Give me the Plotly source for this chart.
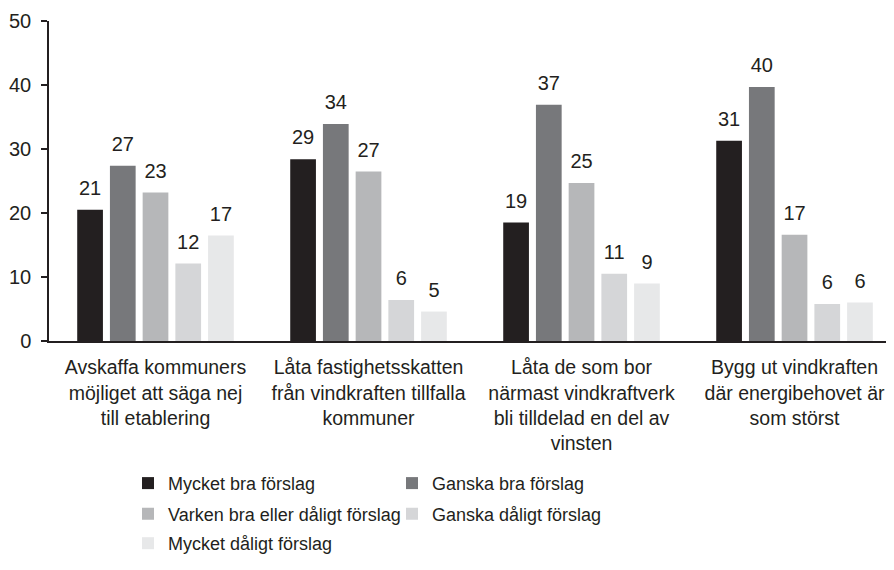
import plotly.graph_objects as go

# survey proposals (x categories)
categories = [
    "Avskaffa kommuners<br>möjliget att säga nej<br>till etablering",
    "Låta fastighetsskatten<br>från vindkraften tillfalla<br>kommuner",
    "Låta de som bor<br>närmast vindkraftverk<br>bli tilldelad en del av<br>vinsten",
    "Bygg ut vindkraften<br>där energibehovet är<br>som störst",
]

series_names = [
    "Mycket bra förslag",
    "Ganska bra förslag",
    "Varken bra eller dåligt förslag",
    "Ganska dåligt förslag",
    "Mycket dåligt förslag",
]

# bar heights (percent)
mycket_bra = [20.5, 28.4, 18.5, 31.3]
ganska_bra = [27.4, 33.9, 36.9, 39.7]
varken = [23.2, 26.5, 24.7, 16.6]
ganska_daligt = [12.1, 6.4, 10.5, 5.8]
mycket_daligt = [16.5, 4.6, 9.0, 6.0]

# labels printed above the bars
labels_mycket_bra = [21, 29, 19, 31]
labels_ganska_bra = [27, 34, 37, 40]
labels_varken = [23, 27, 25, 17]
labels_ganska_daligt = [12, 6, 11, 6]
labels_mycket_daligt = [17, 5, 9, 6]

values = [mycket_bra, ganska_bra, varken, ganska_daligt, mycket_daligt]
labels = [labels_mycket_bra, labels_ganska_bra, labels_varken,
          labels_ganska_daligt, labels_mycket_daligt]
colors = ["#231f20", "#77787b", "#b6b7b9", "#d5d6d8", "#e7e8e9"]
legend_rows = ["legend", "legend", "legend2", "legend2", "legend3"]

FONT = "Liberation Sans, Arial, sans-serif"
TXT = "#231f20"

fig = go.Figure()
for name, vals, col, lg in zip(series_names, values, colors, legend_rows):
    fig.add_trace(go.Bar(
        x=categories, y=vals, name=name, marker_color=col,
        marker_line_width=0, legend=lg, hoverinfo="skip",
    ))

# value labels, grouped the same way as the bars
for name, vals, labs in zip(series_names, values, labels):
    fig.add_trace(go.Scatter(
        x=categories, y=vals, text=[str(v) for v in labs],
        mode="markers+text", textposition="top center",
        marker=dict(size=14, opacity=0), showlegend=False,
        textfont=dict(size=20, color=TXT, family=FONT), hoverinfo="skip",
    ))

legend_style = dict(
    orientation="h", xanchor="left", yanchor="middle", x=0.0935,
    entrywidth=219, entrywidthmode="pixels",
    font=dict(size=18, color=TXT, family=FONT), bgcolor="rgba(0,0,0,0)",
)

# page body has an 8px margin, so the figure is kept smaller than the window
fig.update_layout(
    width=886, height=554,
    margin=dict(l=41, r=0, t=13, b=221),
    plot_bgcolor="white", paper_bgcolor="white",
    barmode="group", bargap=0.232, bargroupgap=0.214,
    scattermode="group", scattergap=0.232,
    font=dict(family=FONT, size=19, color=TXT),
    legend=dict(legend_style, y=-0.445),
    legend2=dict(legend_style, y=-0.541),
    legend3=dict(legend_style, y=-0.635),
    xaxis=dict(
        range=[-0.5, 3.467], showline=True, linecolor=TXT, linewidth=2,
        ticks="", showgrid=False, zeroline=False,
        tickfont=dict(size=19.5, color=TXT, family=FONT),
        ticklabelstandoff=8,
    ),
    yaxis=dict(
        range=[0, 50], tickvals=[0, 10, 20, 30, 40, 50],
        showline=True, linecolor=TXT, linewidth=1.5,
        ticks="outside", ticklen=6, tickcolor=TXT, tickwidth=1.5,
        showgrid=False, zeroline=False,
        tickfont=dict(size=20, color=TXT, family=FONT),
        ticklabelstandoff=6,
    ),
)

fig.write_html("out.html")
